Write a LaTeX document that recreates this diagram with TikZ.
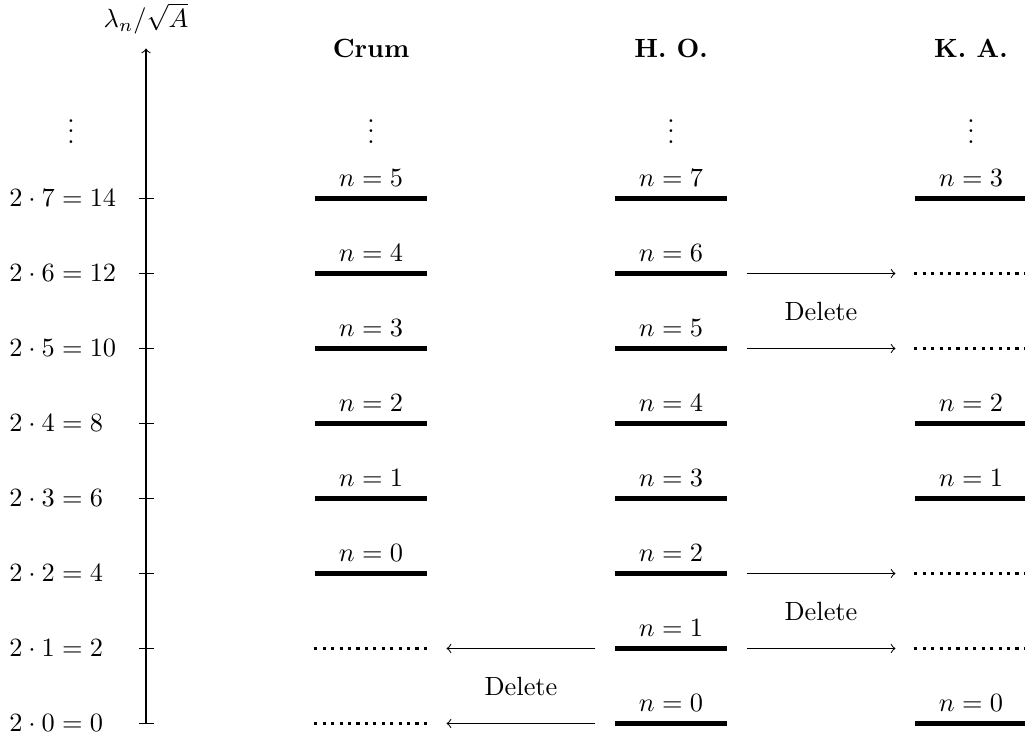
\documentclass[tikz,border=0pt]{standalone}
\begin{document}
\begin{tikzpicture}[
  solidlev/.style={rectangle, inner sep=0pt, minimum width=1.5cm, minimum height=1.6pt, fill=black},
  dotlev/.style={rectangle, inner sep=0pt, minimum width=1.5cm, minimum height=1.6pt},
  dotline/.style={line width=1.2pt, dotted},
  delarrow/.style={->, thin},
  ticklab/.style={anchor=west},
  head/.style={font=\bfseries},
]
\useasboundingbox (-1.947,-0.22) rectangle (11.72,9.647);

% axis
\coordinate (ax0) at (0,0);
\coordinate (axtop) at (0,9);
\draw[->] (ax0) -- (axtop);
\node[inner sep=1pt] (axlab) at (0,9.40) {$\lambda_n/\sqrt{A}$};
\foreach \k in {0,...,7} {
  \pgfmathtruncatemacro{\v}{2*\k}
  \draw (-0.1,\k) -- (0.1,\k);
  \node[ticklab] (t\k) at (-1.947,\k) {$2\cdot\k=\v$};
}
\node[inner sep=0pt] (vdl) at (-1,8) {$\vdots$};

% headings
\node[head] (hc) at (3,9) {Crum};
\node[head] (hh) at (7,9) {H. O.};
\node[head] (hk) at (11,9) {K. A.};
\node[inner sep=0pt] (vc) at (3,8) {$\vdots$};
\node[inner sep=0pt] (vh) at (7,8) {$\vdots$};
\node[inner sep=0pt] (vk) at (11,8) {$\vdots$};

% Crum levels
\foreach \k/\n in {7/5,6/4,5/3,4/2,3/1,2/0} {
  \node[solidlev, label={above:$n=\n$}] (c\k) at (3,\k) {};
}
\foreach \k in {1,0} {
  \node[dotlev] (c\k) at (3,\k) {};
  \draw[dotline] (c\k.west) -- (c\k.east);
}

% H.O. levels
\foreach \k in {0,...,7} {
  \node[solidlev, label={above:$n=\k$}] (h\k) at (7,\k) {};
}

% K.A. levels
\foreach \k/\n in {7/3,4/2,3/1,0/0} {
  \node[solidlev, label={above:$n=\n$}] (k\k) at (11,\k) {};
}
\foreach \k in {6,5,2,1} {
  \node[dotlev] (k\k) at (11,\k) {};
  \draw[dotline] (k\k.west) -- (k\k.east);
}

% arrows
\foreach \k in {6,5,2,1} {
  \draw[delarrow] ([xshift=0.25cm]h\k.east) -- ([xshift=-0.25cm]k\k.west);
}
\foreach \k in {1,0} {
  \draw[delarrow] ([xshift=-0.25cm]h\k.west) -- ([xshift=0.25cm]c\k.east);
}

\node (d1) at (9,5.5) {Delete};
\node (d2) at (9,1.5) {Delete};
\node (d3) at (5,0.5) {Delete};
\end{tikzpicture}
\end{document}
